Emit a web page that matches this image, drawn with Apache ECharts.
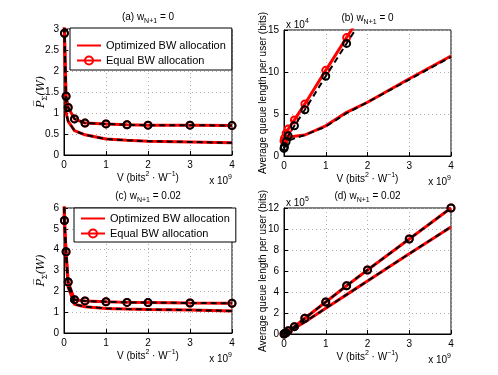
<!DOCTYPE html>
<html>
<head>
<meta charset="utf-8">
<script src="https://cdn.jsdelivr.net/npm/echarts@6/dist/echarts.min.js"></script>
<style>
html, body { margin: 0; padding: 0; background: #fff; }
#chart { width: 498px; height: 375px; }
</style>
</head>
<body>
<div id="chart"></div>
<script>
// V, in units of 10^9 bits^2/W
const vValues = [0, 0.01, 0.05, 0.1, 0.25, 0.5, 1, 1.5, 2, 3, 4]

// (a) w_{N+1} = 0 : average power (W)
const powerOptA = [3.3, 2.9, 1.0, 0.8, 0.58, 0.48, 0.38, 0.35, 0.33, 0.31, 0.29]
const powerEqualA = [3.3, 2.9, 1.4, 1.13, 0.86, 0.76, 0.74, 0.72, 0.71, 0.71, 0.70]

// (b) w_{N+1} = 0 : queue length per user (x 10^4 bits)
const queueOptSimB = [1.5, 1.7, 2.1, 2.3, 2.35, 2.5, 3.6, 5.2, 6.4, 9.2, 11.9]
const queueOptAnaB = [0.9, 1.1, 1.5, 1.8, 2.1, 2.5, 3.5, 5.1, 6.4, 9.1, 11.8]
const queueEqualSimB = [1.8, 2.1, 2.7, 3.2, 4.3, 6.2, 10.2, 14.1, 18.0, 26, 34]
const queueEqualAnaB = [0.9, 1.1, 1.7, 2.4, 3.6, 5.5, 9.5, 13.4, 17.3, 25, 33]

// (c) w_{N+1} = 0.02 : average power (W)
const powerOptC = [7, 5.4, 3.7, 2.2, 1.38, 1.26, 1.18, 1.15, 1.13, 1.1, 1.06]
const powerEqualC = [7, 5.4, 3.9, 2.45, 1.6, 1.54, 1.5, 1.47, 1.46, 1.44, 1.43]

// (d) w_{N+1} = 0.02 : queue length per user (x 10^5 bits)
const queueOptD = [0, 0.02, 0.1, 0.22, 0.55, 1.15, 2.45, 3.75, 5.05, 7.65, 10.2]
const queueEqualD = [0, 0.03, 0.12, 0.3, 0.7, 1.5, 3.05, 4.6, 6.1, 9.05, 12.0]

const legendNames = ['Optimized BW allocation', 'Equal BW allocation']

const FONT = '"Liberation Sans", Arial, Helvetica, sans-serif'
const RED = '#ff0000'
const BLACK = '#000000'

const richText = {
  b: { fontSize: 10, lineHeight: 15, fontFamily: FONT, color: '#000' },
  sup: { fontSize: 7, lineHeight: 8, verticalAlign: 'top', fontFamily: FONT, color: '#000' },
  sub: { fontSize: 7, lineHeight: 8, verticalAlign: 'bottom', fontFamily: FONT, color: '#000' },
  p: { fontSize: 11, lineHeight: 15, fontFamily: '"DejaVu Serif", serif', fontStyle: 'italic', color: '#000' },
  ps: { fontSize: 7, lineHeight: 8, verticalAlign: 'bottom', fontFamily: '"DejaVu Serif", serif', color: '#000' }
}

const grids = [
  { left: 64, top: 29, width: 168, height: 126 },
  { left: 284, top: 30, width: 167, height: 126 },
  { left: 64, top: 208, width: 168, height: 125 },
  { left: 284, top: 208, width: 167, height: 126 }
]
const yRanges = [
  { max: 3, interval: 0.5 },
  { max: 15, interval: 5 },
  { max: 6, interval: 1 },
  { max: 12, interval: 2 }
]
const yNames = [
  { text: '{p|P\u0305}{ps|\u03a3}{p|(W)}', gap: 15 },
  { text: '{b|Average queue length per user (bits)}', gap: 13 },
  { text: '{p|P\u0305}{ps|\u03a3}{p|(W)}', gap: 15 },
  { text: '{b|Average queue length per user (bits)}', gap: 13 }
]
const titles = ['(a)', '(b)', '(c)', '(d)']
const titleW = ['0', '0', '0.02', '0.02']

const pairs = arr => vValues.map((v, i) => [v, arr[i]])

function curve (name, idx, values, color, dashed, marker) {
  return {
    type: 'line',
    name: name,
    xAxisIndex: idx,
    yAxisIndex: idx,
    data: pairs(values),
    clip: true,
    animation: false,
    showSymbol: marker,
    symbol: marker ? 'circle' : 'none',
    symbolSize: 7,
    z: dashed ? 4 : 3,
    lineStyle: { color: color, width: dashed ? 2 : 3, type: dashed ? [6, 4] : 'solid' },
    itemStyle: { color: 'rgba(255,255,255,0)', borderColor: color, borderWidth: 2 }
  }
}

const series = [
  curve('Optimized BW allocation', 0, powerOptA, RED, false, false),
  curve('Equal BW allocation', 0, powerEqualA, RED, false, true),
  curve('opt-a', 0, powerOptA, BLACK, true, false),
  curve('eq-a', 0, powerEqualA, BLACK, true, true),

  curve('Optimized BW allocation', 1, queueOptSimB, RED, false, false),
  curve('Equal BW allocation', 1, queueEqualSimB, RED, false, true),
  curve('opt-b', 1, queueOptAnaB, BLACK, true, false),
  curve('eq-b', 1, queueEqualAnaB, BLACK, true, true),

  curve('Optimized BW allocation', 2, powerOptC, RED, false, false),
  curve('Equal BW allocation', 2, powerEqualC, RED, false, true),
  curve('opt-c', 2, powerOptC, BLACK, true, false),
  curve('eq-c', 2, powerEqualC, BLACK, true, true),

  curve('Optimized BW allocation', 3, queueOptD, RED, false, false),
  curve('Equal BW allocation', 3, queueEqualD, RED, false, true),
  curve('opt-d', 3, queueOptD, BLACK, true, false),
  curve('eq-d', 3, queueEqualD, BLACK, true, true)
]

const axisCommon = {
  axisLine: { show: true, onZero: false, lineStyle: { color: '#000', width: 1 } },
  axisTick: { show: true, inside: true, length: 4, lineStyle: { color: '#000' } },
  axisLabel: { color: '#000', fontSize: 10, fontFamily: FONT, margin: 5 },
  splitLine: { show: true, lineStyle: { color: '#b0b0b0', type: [1, 3] } },
  nameMoveOverlap: false
}

const xAxes = grids.map((g, i) => Object.assign({}, axisCommon, {
  type: 'value',
  gridIndex: i,
  min: 0,
  max: 4,
  interval: 1,
  name: '{b|V (bits}{sup|2}{b| \u00b7 W}{sup|\u22121}{b|)}',
  nameLocation: 'middle',
  nameGap: 16,
  nameTextStyle: { rich: richText }
}))

const yAxes = grids.map((g, i) => Object.assign({}, axisCommon, {
  type: 'value',
  gridIndex: i,
  min: 0,
  max: yRanges[i].max,
  interval: yRanges[i].interval,
  name: yNames[i].text,
  nameLocation: 'middle',
  nameGap: yNames[i].gap,
  nameTextStyle: { rich: richText }
}))

const titleList = grids.map((g, i) => ({
  text: titles[i] + ' w{sub|N+1}{b| = ' + titleW[i] + '}',
  left: g.left + g.width / 2,
  textAlign: 'center',
  top: g.top - 19,
  padding: 0,
  textStyle: { fontSize: 10, fontWeight: 'normal', fontFamily: FONT, color: '#000', lineHeight: 15, rich: richText }
}))

const legendCommon = {
  orient: 'vertical',
  data: [
    { name: legendNames[0], itemStyle: { opacity: 0 } },
    { name: legendNames[1] }
  ],
  itemWidth: 24,
  itemHeight: 10,
  itemGap: 4,
  borderColor: '#000',
  borderWidth: 1,
  backgroundColor: '#fff',
  borderRadius: 0,
  textStyle: { fontSize: 11, fontFamily: FONT, color: '#000' },
  selectedMode: false
}

const graphics = []
grids.forEach((g, i) => {
  graphics.push({
    type: 'text',
    right: 498 - (g.left + g.width),
    top: g.top + g.height + 19,
    style: { text: '{b|x 10}{sup|9}', rich: richText, fill: '#000' }
  })
})
graphics.push({ type: 'text', left: 286, top: 18, style: { text: '{b|x 10}{sup|4}', rich: richText, fill: '#000' } })
graphics.push({ type: 'text', left: 286, top: 196, style: { text: '{b|x 10}{sup|5}', rich: richText, fill: '#000' } })

const chart = echarts.init(document.getElementById('chart'), null, { renderer: 'canvas' })
chart.setOption({
  backgroundColor: '#fff',
  animation: false,
  title: titleList,
  grid: grids.map(g => Object.assign({ show: true, borderColor: '#000', borderWidth: 1, backgroundColor: '#fff' }, g)),
  legend: [
    Object.assign({ left: 70, top: 28, padding: [12, 6, 4, 6] }, legendCommon),
    Object.assign({ left: 74, top: 208, padding: [5, 6, 3, 6] }, legendCommon)
  ],
  xAxis: xAxes,
  yAxis: yAxes,
  graphic: graphics,
  series: series
})
</script>
</body>
</html>
